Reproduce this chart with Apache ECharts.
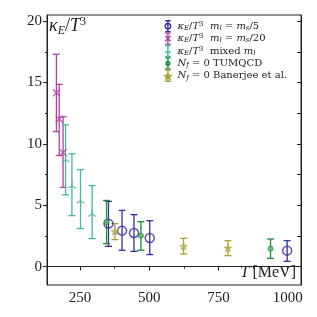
<!DOCTYPE html>
<html><head><meta charset="utf-8">
<script src="https://cdn.jsdelivr.net/npm/echarts@6/dist/echarts.min.js"></script>
<style>html,body{margin:0;padding:0;background:#fff}#c{width:317px;height:317px}</style>
</head><body><div id="c"></div>
<script>
// ---- data ----
const xTicks = [250, 500, 750, 1000];
const xMinorTicks = [375, 625, 875];
const yTicks = [0, 5, 10, 15, 20];
const yMinorTicks = [2.5, 7.5, 12.5, 17.5];

const ms5_T  = [353, 402, 445, 502, 998];
const ms5_k  = [3.5, 2.93, 2.74, 2.33, 1.3];
const ms5_lo = [1.65, 1.33, 1.24, 0.98, 0.43];
const ms5_hi = [5.31, 4.58, 4.23, 3.74, 2.11];

const ms20_T  = [165, 175, 189];
const ms20_k  = [14.17, 12.03, 9.29];
const ms20_lo = [11.0, 9.05, 6.45];
const ms20_hi = [17.3, 14.85, 12.2];

const mix_T  = [198, 221, 252, 294];
const mix_k  = [8.8, 6.67, 5.45, 4.37];
const mix_lo = [5.85, 4.15, 3.1, 2.28];
const mix_hi = [11.55, 9.19, 7.9, 6.6];

const tum_T  = [346, 470, 938];
const tum_k  = [3.63, 2.52, 1.46];
const tum_lo = [1.87, 1.33, 0.67];
const tum_hi = [5.39, 3.66, 2.25];

const ban_T  = [376, 624, 784];
const ban_k  = [2.87, 1.65, 1.52];
const ban_lo = [2.2, 1.03, 0.89];
const ban_hi = [3.5, 2.3, 2.11];

const names = ['ms5', 'ms20', 'mix', 'tum', 'ban'];
const legendRich = {
  ms5: '{m|κ}{s|E}{r|/}{m|T}{p|3}{r|  }{m|m}{s|l}{r| = }{m|m}{s|s}{r|/5}',
  ms20: '{m|κ}{s|E}{r|/}{m|T}{p|3}{r|  }{m|m}{s|l}{r| = }{m|m}{s|s}{r|/20}',
  mix: '{m|κ}{s|E}{r|/}{m|T}{p|3}{r|  mixed }{m|m}{s|l}',
  tum: '{m|N}{s|f}{r| = 0 TUMQCD}',
  ban: '{m|N}{s|f}{r| = 0 Banerjee et al.}'
};

// ---- styles ----
const col = {ms5:'#3a2c9a', ms20:'#b042a4', mix:'#42b89c', tum:'#1d8a3c', ban:'#a4a232'};
const starPath = 'path://M5,0L6.18,3.38L9.76,3.45L6.9,5.62L7.94,9.05L5,7L2.06,9.05L3.1,5.62L0.24,3.45L3.82,3.38Z';
const sym = {
  ms5: {symbol:'circle', size:9, itemStyle:{color:'rgba(0,0,0,0)', borderColor:col.ms5, borderWidth:1.5}},
  ms20:{symbol:'path://M0,0L10,10M10,0L0,10', size:7, itemStyle:{color:'rgba(0,0,0,0)', borderColor:col.ms20, borderWidth:1.4}},
  mix: {symbol:'path://M5,5L5,0M5,5L0.67,7.5M5,5L9.33,7.5', size:8, itemStyle:{color:'rgba(0,0,0,0)', borderColor:col.mix, borderWidth:1.2}},
  tum: {symbol:'circle', size:5, itemStyle:{color:'#63b96f', borderColor:col.tum, borderWidth:1}},
  ban: {symbol:starPath, size:8, itemStyle:{color:'#b3b14a', borderColor:col.ban, borderWidth:0.6}}
};
const legendIcons = {
  ms5: 'path://M2,0L8,0M5,0L5,12M2,12L8,12M8,6A3,3 0 1 1 2,6A3,3 0 1 1 8,6',
  ms20:'path://M2,0L8,0M5,0L5,12M2,12L8,12M2,3L8,9M8,3L2,9',
  mix: 'path://M2,0L8,0M5,0L5,12M2,12L8,12M5,6L2,8M5,6L8,8',
  tum: 'path://M2,0L8,0M5,0L5,12M2,12L8,12M7,6A2,2 0 1 1 3,6A2,2 0 1 1 7,6',
  ban: 'path://M2,0L8,0M5,0L5,12M2,12L8,12M5,3L6,5.5L8.5,5.5L6.5,7L7.3,9.5L5,8L2.7,9.5L3.5,7L1.5,5.5L4,5.5Z'
};
const dataSets = {
  ms5:[ms5_T, ms5_k, ms5_lo, ms5_hi],
  ms20:[ms20_T, ms20_k, ms20_lo, ms20_hi],
  mix:[mix_T, mix_k, mix_lo, mix_hi],
  tum:[tum_T, tum_k, tum_lo, tum_hi],
  ban:[ban_T, ban_k, ban_lo, ban_hi]
};

const series = [];
names.forEach(function(n){
  const d = dataSets[n];
  const c = col[n];
  series.push({
    name: n, type:'custom', xAxisIndex:0, yAxisIndex:0, z:3,
    data: d[0].map(function(t,i){return [t, d[2][i], d[3][i]];}),
    itemStyle:{color:c},
    renderItem: function(params, api){
      const x = api.value(0);
      const a = api.coord([x, api.value(1)]);
      const b = api.coord([x, api.value(2)]);
      const w = 3.5, st = {stroke:c, lineWidth:1.3};
      return {type:'group', children:[
        {type:'line', shape:{x1:a[0],y1:a[1],x2:b[0],y2:b[1]}, style:st},
        {type:'line', shape:{x1:a[0]-w,y1:a[1],x2:a[0]+w,y2:a[1]}, style:st},
        {type:'line', shape:{x1:b[0]-w,y1:b[1],x2:b[0]+w,y2:b[1]}, style:st}
      ]};
    }
  });
  series.push({
    name: n, type:'scatter', xAxisIndex:0, yAxisIndex:0, z:4,
    symbolKeepAspect:true,
    data: d[0].map(function(t,i){return [t, d[1][i]];}),
    symbol:sym[n].symbol, symbolSize:sym[n].size, itemStyle:sym[n].itemStyle
  });
});

const serif = "'DejaVu Serif', 'Liberation Serif', serif";
const tickFont = {fontFamily:"'Liberation Serif', serif", fontSize:15, color:'#222'};
const XMIN = 131, XMAX = 1048, YMIN = -1.5, YMAX = 20.5;
const axisLineStyle = {color:'#222', width:1};

const chart = echarts.init(document.getElementById('c'), null, {renderer:'canvas'});
chart.setOption({
  animation:false,
  backgroundColor:'#fff',
  grid:{left:47, right:16, top:15, bottom:32, show:true, borderColor:'#222', borderWidth:1, backgroundColor:'transparent'},
  xAxis:[
    {type:'value', min:XMIN, max:XMAX, position:'bottom',
     axisLine:{show:true, lineStyle:axisLineStyle},
     axisTick:{show:true, customValues:xTicks, length:4, inside:false, lineStyle:axisLineStyle},
     axisLabel:{show:true, customValues:xTicks, margin:6, formatter:function(v){return String(v);}, ...tickFont},
     splitLine:{show:false}},
    {type:'value', min:XMIN, max:XMAX, position:'bottom',
     axisLine:{show:false},
     axisTick:{show:true, customValues:xMinorTicks, length:2, inside:false, lineStyle:axisLineStyle},
     axisLabel:{show:false}, splitLine:{show:false}}
  ],
  yAxis:[
    {type:'value', min:YMIN, max:YMAX, position:'left',
     axisLine:{show:true, lineStyle:axisLineStyle},
     axisTick:{show:true, customValues:yTicks, length:4, inside:false, lineStyle:axisLineStyle},
     axisLabel:{show:true, customValues:yTicks, margin:5, ...tickFont},
     splitLine:{show:false}},
    {type:'value', min:YMIN, max:YMAX, position:'left',
     axisLine:{show:false},
     axisTick:{show:true, customValues:yMinorTicks, length:2, inside:false, lineStyle:axisLineStyle},
     axisLabel:{show:false}, splitLine:{show:false}},
    {type:'value', min:YMIN, max:YMAX, position:'right',
     axisLine:{show:true, lineStyle:axisLineStyle},
     axisTick:{show:true, customValues:yTicks.concat(yMinorTicks), length:4, inside:true, lineStyle:axisLineStyle},
     axisLabel:{show:false}, splitLine:{show:false}}
  ],
  legend:{
    orient:'vertical', left:164, top:20, padding:0, itemWidth:9, itemHeight:11, itemGap:0,
    data: names.map(function(n){return {name:n, icon:legendIcons[n],
      itemStyle:{color:'rgba(0,0,0,0)', borderColor:col[n], borderWidth:1.4}};}),
    formatter: function(n){return legendRich[n];},
    textStyle:{fontFamily:serif, fontSize:10, color:'#222', lineHeight:11,
      rich:{
        m:{fontFamily:serif, fontStyle:'italic', fontSize:10, lineHeight:11, color:'#222'},
        r:{fontFamily:serif, fontSize:10, lineHeight:11, color:'#222'},
        s:{fontFamily:serif, fontStyle:'italic', fontSize:7, lineHeight:11, verticalAlign:'bottom', color:'#222'},
        p:{fontFamily:serif, fontSize:7, lineHeight:11, verticalAlign:'top', color:'#222'}
      }},
    selectedMode:false
  },
  graphic:[
    {type:'text', left:49, top:16, style:{
      text:'{m|κ}{s|E}{r|/}{m|T}{p|3}',
      rich:{
        m:{fontFamily:"'Liberation Serif', serif", fontStyle:'italic', fontSize:18, lineHeight:21, fill:'#222'},
        r:{fontFamily:"'Liberation Serif', serif", fontSize:18, lineHeight:21, fill:'#222'},
        s:{fontFamily:"'Liberation Serif', serif", fontStyle:'italic', fontSize:12, lineHeight:21, verticalAlign:'bottom', fill:'#222'},
        p:{fontFamily:"'Liberation Serif', serif", fontSize:12, lineHeight:21, verticalAlign:'top', fill:'#222'}
      }}},
    {type:'text', right:21, top:265, style:{
      text:'{m|T} {r|[MeV]}',
      rich:{
        m:{fontFamily:"'Liberation Serif', serif", fontStyle:'italic', fontSize:16, fill:'#222'},
        r:{fontFamily:"'Liberation Serif', serif", fontSize:16, fill:'#222'}
      }}}
  ],
  series: series
});
</script>
</body></html>
